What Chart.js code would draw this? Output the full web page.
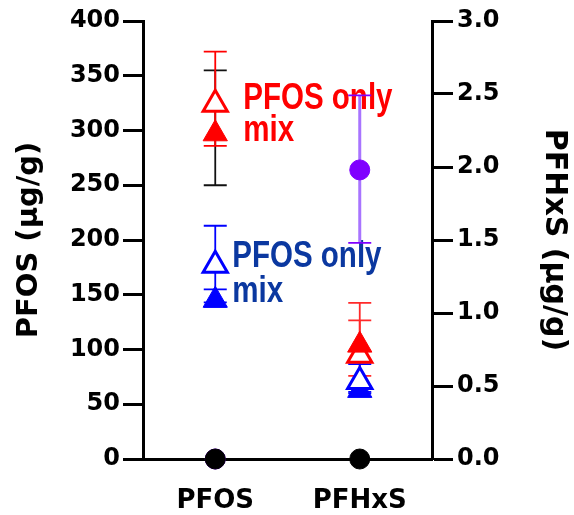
<!DOCTYPE html>
<html>
<head>
<meta charset="utf-8">
<script src="https://cdn.jsdelivr.net/npm/chart.js@4.4.0/dist/chart.umd.min.js"></script>
<style>
html,body{margin:0;padding:0;background:#fff;}
</style>
</head>
<body>
<canvas id="c" width="574" height="515"></canvas>
<script>
// categories on x, one measured compound each
var categories = ['PFOS', 'PFHxS'];
// groups: red PFOS only, red mix, blue PFOS only, blue mix, PFHxS only, control
var groups = ['PFOS only', 'mix', 'PFOS only', 'mix', 'PFHxS only', 'control'];

// PFOS (ug/g), left axis
var pfosMean = [324, 297, 177, 145, 0, 0];
var pfosLow  = [286, 250, 143, 139, 0, 0];
var pfosHigh = [372, 355, 213, 155, 0, 0];

// PFHxS (ug/g), right axis
var pfhxsMean = [0.71, 0.78, 0.53, 0.47, 1.98, 0];
var pfhxsLow  = [0.57, 0.49, 0.46, 0.45, 1.48, 0];
var pfhxsHigh = [0.95, 1.07, 0.65, 0.50, 2.49, 0];

var leftTicks = [0, 50, 100, 150, 200, 250, 300, 350, 400];
var rightTicks = [0, 0.5, 1, 1.5, 2, 2.5, 3];

// looks
var ptFill  = ['#ffffff', '#ff0000', '#ffffff', '#0000ff', '#7f00ff', '#000000'];
var ptEdge  = ['#ff0000', '#ff0000', '#0000ff', '#0000ff', '#7f00ff', '#000000'];
var ptShape = ['triangle', 'triangle', 'triangle', 'triangle', 'circle', 'circle'];
var ptSize  = [14, 14, 14, 14, 10, 10];
var ptLine  = [3, 1, 3, 1, 1, 1];
var ptOrder = [4, 3, 1, 2, 5, 0];
var errColPfos  = ['#ff0000', '#111111', '#0000ff', '#0000ff', '#9a5cff', '#000000'];
var errColPfhxs = ['#ff2a2a', '#ff2a2a', '#0000ff', '#0000ff', '#a874ff', '#000000'];
var errSeq = [4, 1, 0, 3, 2, 5];

// the in-plot notes
var notes = [
	{text: 'PFOS only', at: 320, dx: 28, color: '#ff0000'},
	{text: 'mix',       at: 290, dx: 28, color: '#ff0000'},
	{text: 'PFOS only', at: 175, dx: 17, color: '#0b38a0'},
	{text: 'mix',       at: 143, dx: 17, color: '#0b38a0'}
];

var datasets = [];
groups.forEach(function(g, i){
	var base = {
		label: g,
		showLine: false,
		pointStyle: ptShape[i],
		pointRadius: ptSize[i],
		pointHoverRadius: ptSize[i],
		pointBackgroundColor: ptFill[i],
		pointBorderColor: ptEdge[i],
		pointBorderWidth: ptLine[i],
		order: ptOrder[i],
		clip: false
	};
	datasets.push(Object.assign({}, base, {data: [pfosMean[i], null], yAxisID: 'y',
		lo: pfosLow, hi: pfosHigh, errCol: errColPfos, grp: i}));
	datasets.push(Object.assign({}, base, {data: [null, pfhxsMean[i]], yAxisID: 'y1',
		lo: pfhxsLow, hi: pfhxsHigh, errCol: errColPfhxs, grp: i}));
});

var errorBars = {
	id: 'errorBars',
	beforeDatasetsDraw: function(chart){
		var ctx = chart.ctx;
		var xs = chart.scales.x, yl = chart.scales.y;
		ctx.save();
		ctx.font = 'bold 36px "Liberation Sans", Arial, sans-serif';
		ctx.textBaseline = 'alphabetic';
		notes.forEach(function(n){
			var x = xs.getPixelForValue(0) + n.dx;
			var y = yl.getPixelForValue(n.at);
			ctx.save();
			ctx.translate(x, y);
			ctx.scale(0.82, 1);
			ctx.fillStyle = n.color;
			ctx.fillText(n.text, 0, 0);
			ctx.restore();
		});
		ctx.restore();

		errSeq.forEach(function(g){
			[0, 1].forEach(function(k){
				var idx = g * 2 + k;
				var ds = chart.data.datasets[idx];
				var meta = chart.getDatasetMeta(idx);
				var pt = meta.data[k];
				if(!pt) return;
				var lo = ds.lo[g], hi = ds.hi[g];
				if(lo === hi) return;
				var ys = chart.scales[ds.yAxisID];
				var yLo = ys.getPixelForValue(lo), yHi = ys.getPixelForValue(hi);
				var x = pt.x, w = 11.5;
				ctx.save();
				ctx.strokeStyle = ds.errCol[g];
				ctx.lineWidth = (g === 4) ? 3 : 1.8;
				ctx.beginPath();
				ctx.moveTo(x, yLo); ctx.lineTo(x, yHi);
				ctx.stroke();
				ctx.lineWidth = 1.8;
				if(g === 4) ctx.strokeStyle = '#7f00ff';
				ctx.beginPath();
				ctx.moveTo(x - w, yHi); ctx.lineTo(x + w, yHi);
				ctx.moveTo(x - w, yLo); ctx.lineTo(x + w, yLo);
				ctx.stroke();
				ctx.restore();
			});
		});
	}
};

var tickFont = {family: '"DejaVu Sans", sans-serif', size: 24, weight: 'bold'};
var titleFont = {family: '"DejaVu Sans", sans-serif', size: 29, weight: 'bold'};

var chart = new Chart(document.getElementById('c'), {
	type: 'line',
	data: {labels: categories, datasets: datasets},
	options: {
		responsive: false,
		animation: false,
		events: [],
		layout: {padding: {top: 21, left: 0, right: 0, bottom: 0}},
		plugins: {legend: {display: false}, tooltip: {enabled: false}},
		scales: {
			x: {
				type: 'category',
				offset: true,
				grid: {display: true, drawOnChartArea: false, drawTicks: true, tickLength: 9, tickWidth: 3, tickColor: '#000', offset: false},
				border: {display: true, width: 3, color: '#000'},
				ticks: {color: '#000', font: {family: '"DejaVu Sans", sans-serif', size: 26, weight: 'bold'}, padding: 18, maxRotation: 0, autoSkip: false},
				afterFit: function(s){ s.height = 56; }
			},
			y: {
				position: 'left',
				min: 0, max: 400,
				afterBuildTicks: function(s){ s.ticks = leftTicks.map(function(v){ return {value: v}; }); },
				grid: {display: true, drawOnChartArea: false, drawTicks: true, tickLength: 20, tickWidth: 3, tickColor: '#000'},
				border: {display: true, width: 3, color: '#000'},
				ticks: {color: '#000', font: tickFont, padding: 3},
				title: {display: true, text: 'PFOS (µg/g)', color: '#000', font: titleFont, padding: {top: 12, bottom: 0}},
				afterFit: function(s){ s.width = 143; }
			},
			y1: {
				position: 'right',
				min: 0, max: 3,
				afterBuildTicks: function(s){ s.ticks = rightTicks.map(function(v){ return {value: v}; }); },
				grid: {display: true, drawOnChartArea: false, drawTicks: true, tickLength: 21, tickWidth: 3, tickColor: '#000'},
				border: {display: true, width: 3, color: '#000'},
				ticks: {color: '#000', font: tickFont, padding: 4, callback: function(v){ return Number(v).toFixed(1); }},
				title: {display: true, text: 'PFHxS (µg/g)', color: '#000', font: {family: '"DejaVu Sans", sans-serif', size: 30, weight: 'bold'}, padding: {top: 2, bottom: 0}},
				afterFit: function(s){ s.width = 142; }
			}
		}
	},
	plugins: [errorBars]
});
</script>
</body>
</html>
